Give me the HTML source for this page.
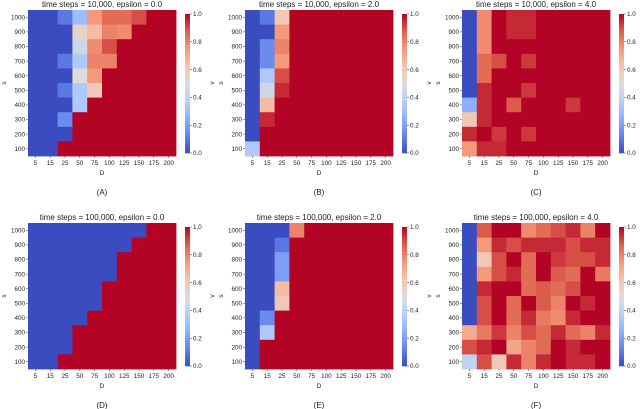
<!DOCTYPE html>
<html><head><meta charset="utf-8"><style>
html,body{margin:0;padding:0;background:#fff;}
svg{display:block;font-family:"Liberation Sans","DejaVu Sans",sans-serif;}
</style></head><body>
<svg id="fig" width="640" height="409" viewBox="0 0 640 409"></svg>
<script>
const colCats = ["5","15","25","50","75","100","125","150","175","200"];
const rowCats = ["1000","900","800","700","600","500","400","300","200","100"];
const cbTicks = ["0.0","0.2","0.4","0.6","0.8","1.0"];
const titles = ["time steps = 10,000, epsilon = 0.0","time steps = 10,000, epsilon = 2.0","time steps = 10,000, epsilon = 4.0","time steps = 100,000, epsilon = 0.0","time steps = 100,000, epsilon = 2.0","time steps = 100,000, epsilon = 4.0"];
const captions = ["(A)","(B)","(C)","(D)","(E)","(F)"];
const valsA = [
[0,0,0.1,0.3,0.75,0.85,0.85,0.9,1,1],
[0,0,0,0.55,0.65,0.8,0.78,1,1,1],
[0,0,0,0.45,0.78,0.9,1,1,1,1],
[0,0,0.1,0.35,0.8,0.8,1,1,1,1],
[0,0,0,0.5,0.75,1,1,1,1,1],
[0,0,0.1,0.35,0.6,1,1,1,1,1],
[0,0,0,0.35,1,1,1,1,1,1],
[0,0,0.15,1,1,1,1,1,1,1],
[0,0,0,1,1,1,1,1,1,1],
[0,0,1,1,1,1,1,1,1,1]];
const valsB = [
[0,0.1,0.6,1,1,1,1,1,1,1],
[0,0,0.75,1,1,1,1,1,1,1],
[0,0.15,0.8,1,1,1,1,1,1,1],
[0,0.15,0.75,1,1,1,1,1,1,1],
[0,0.35,0.9,1,1,1,1,1,1,1],
[0,0.45,0.95,1,1,1,1,1,1,1],
[0,0.65,1,1,1,1,1,1,1,1],
[0,0.95,1,1,1,1,1,1,1,1],
[0,1,1,1,1,1,1,1,1,1],
[0.35,1,1,1,1,1,1,1,1,1]];
const valsC = [
[0,0.78,1,0.95,0.95,1,1,1,1,1],
[0,0.78,1,0.95,0.95,1,1,1,1,1],
[0,0.78,1,1,1,1,1,1,1,1],
[0,0.85,0.9,1,0.93,1,1,1,1,1],
[0,0.85,1,1,1,1,1,1,1,1],
[0,0.95,1,1,0.93,1,1,1,1,1],
[0.25,0.95,1,0.88,1,1,1,0.93,1,1],
[0.6,0.95,1,1,1,1,1,1,1,1],
[0.95,1,0.93,1,0.93,1,1,1,1,1],
[0.75,0.95,0.95,1,1,1,1,1,1,1]];
const valsD = [
[0,0,0,0,0,0,0,0,1,1],
[0,0,0,0,0,0,0,1,1,1],
[0,0,0,0,0,0,1,1,1,1],
[0,0,0,0,0,0,1,1,1,1],
[0,0,0,0,0,1,1,1,1,1],
[0,0,0,0,0,1,1,1,1,1],
[0,0,0,0,1,1,1,1,1,1],
[0,0,0,1,1,1,1,1,1,1],
[0,0,0,1,1,1,1,1,1,1],
[0,0,1,1,1,1,1,1,1,1]];
const valsE = [
[0,0,0,0.8,1,1,1,1,1,1],
[0,0,0.1,1,1,1,1,1,1,1],
[0,0,0.2,1,1,1,1,1,1,1],
[0,0,0.2,1,1,1,1,1,1,1],
[0,0,0.65,1,1,1,1,1,1,1],
[0,0,0.6,1,1,1,1,1,1,1],
[0,0.15,1,1,1,1,1,1,1,1],
[0,0.35,1,1,1,1,1,1,1,1],
[0,1,1,1,1,1,1,1,1,1],
[0,1,1,1,1,1,1,1,1,1]];
const valsF = [
[0,0.88,1,1,0.78,0.85,0.9,0.95,0.8,1],
[0,0.75,0.95,0.9,0.95,0.95,0.95,0.9,0.95,0.95],
[0,0.6,0.9,1,0.85,1,0.93,0.9,0.9,0.95],
[0,0.75,0.9,0.95,0.85,1,0.88,0.85,1,0.82],
[0,0.95,1,1,0.85,0.88,0.85,0.9,1,1],
[0,0.9,1,0.85,1,0.88,0.8,1,0.95,1],
[0,0.9,1,0.85,0.95,0.82,0.78,0.95,1,1],
[0.7,0.82,0.93,0.8,0.9,0.85,0.95,0.85,0.8,0.95],
[0.9,0.95,1,0.72,0.8,0.85,1,0.95,1,1],
[0.4,0.9,0.6,0.95,0.8,0.95,1,0.95,0.95,1]];
const allVals = [valsA,valsB,valsC,valsD,valsE,valsF];

const cmap = [[0,59,76,192],[0.125,98,130,234],[0.25,141,176,254],[0.375,184,208,249],[0.5,221,220,220],[0.625,245,196,173],[0.75,244,154,123],[0.875,222,96,77],[1,180,4,38]];
function color(v){
  v=Math.max(0,Math.min(1,v));
  for(let i=1;i<cmap.length;i++){
    if(v<=cmap[i][0]){const a=cmap[i-1],b=cmap[i],t=(v-a[0])/(b[0]-a[0]);
      return `rgb(${Math.round(a[1]+t*(b[1]-a[1]))},${Math.round(a[2]+t*(b[2]-a[2]))},${Math.round(a[3]+t*(b[3]-a[3]))})`;}
  }
  return "rgb(180,4,38)";
}
const NS="http://www.w3.org/2000/svg";
const svg=document.getElementById('fig');
function mk(tag,attrs,parent){const e=document.createElementNS(NS,tag);for(const k in attrs)e.setAttribute(k,attrs[k]);(parent||svg).appendChild(e);return e;}
function txt(s,attrs,parent){const e=mk('text',attrs,parent);e.textContent=s;return e;}

const panelX=[28,245,462];
const panelY=[10,223];
const HW=148, HH=146;
allVals.forEach((vals,p)=>{
  const x0=panelX[p%3], y0=panelY[Math.floor(p/3)];
  const g=mk('g',{});
  
  
  const cw=HW/colCats.length, ch=HH/rowCats.length;
  const xs=i=>x0+i*cw, ys=j=>y0+j*ch;
  vals.forEach((row,j)=>row.forEach((v,i)=>{
    const r=mk('rect',{x:xs(i),y:ys(j),width:cw+0.4,height:ch+0.4,fill:color(v)},g);
    
    
  }));
  const t=txt(titles[p],{x:x0+HW/2,y:y0-3,'font-size':8,'text-anchor':'middle',fill:'#222'},g);
  
  
  colCats.forEach((c,i)=>{
    mk('line',{x1:xs(i)+cw/2,x2:xs(i)+cw/2,y1:y0+HH,y2:y0+HH+2,stroke:'#333','stroke-width':0.5},g);
    const l=txt(c,{x:xs(i)+cw/2,y:y0+HH+9,'font-size':6.3,'text-anchor':'middle',fill:'#222'},g);
    
    
  });
  rowCats.forEach((c,j)=>{
    mk('line',{x1:x0-2,x2:x0,y1:ys(j)+ch/2,y2:ys(j)+ch/2,stroke:'#333','stroke-width':0.5},g);
    const l=txt(c,{x:x0-3,y:ys(j)+ch/2+2.2,'font-size':6.3,'text-anchor':'end',fill:'#222'},g);
    
    
  });
  const xl=txt('D',{x:x0+HW/2,y:y0+HH+19,'font-size':6.5,'text-anchor':'middle',fill:'#222'},g);
  
  
  const yl=txt('s',{x:0,y:0,'font-size':6.5,'text-anchor':'middle',fill:'#222',transform:`translate(${x0-22},${y0+HH/2}) rotate(-90)`},g);
  
  
  const cap=txt(captions[p],{x:x0+HW/2,y:y0+HH+39,'font-size':8,'text-anchor':'middle',fill:'#222'},g);
  
  
  // colorbar
  const cx=x0+157, cy=y0+4, cH=HH-7, cW=5;
  const cb=mk('g',{},g);
  
  
  const N=60;
  for(let k=0;k<N;k++){
    mk('rect',{x:cx,y:cy+cH*(1-(k+1)/N),width:cW,height:cH/N+0.3,fill:color((k+0.5)/N)},cb);
  }
  cbTicks.forEach(s=>{
    const v=parseFloat(s), yy=cy+cH*(1-v);
    mk('line',{x1:cx+cW,x2:cx+cW+2,y1:yy,y2:yy,stroke:'#333','stroke-width':0.5},cb);
    const l=txt(s,{x:cx+cW+3,y:yy+2.2,'font-size':6.3,fill:'#222'},cb);
    
    
  });
  const vl=txt('v',{x:0,y:0,'font-size':6.5,'text-anchor':'middle',fill:'#222',transform:`translate(${cx+29},${y0+HH/2}) rotate(-90)`},cb);
  
  
});
</script>
</body></html>
